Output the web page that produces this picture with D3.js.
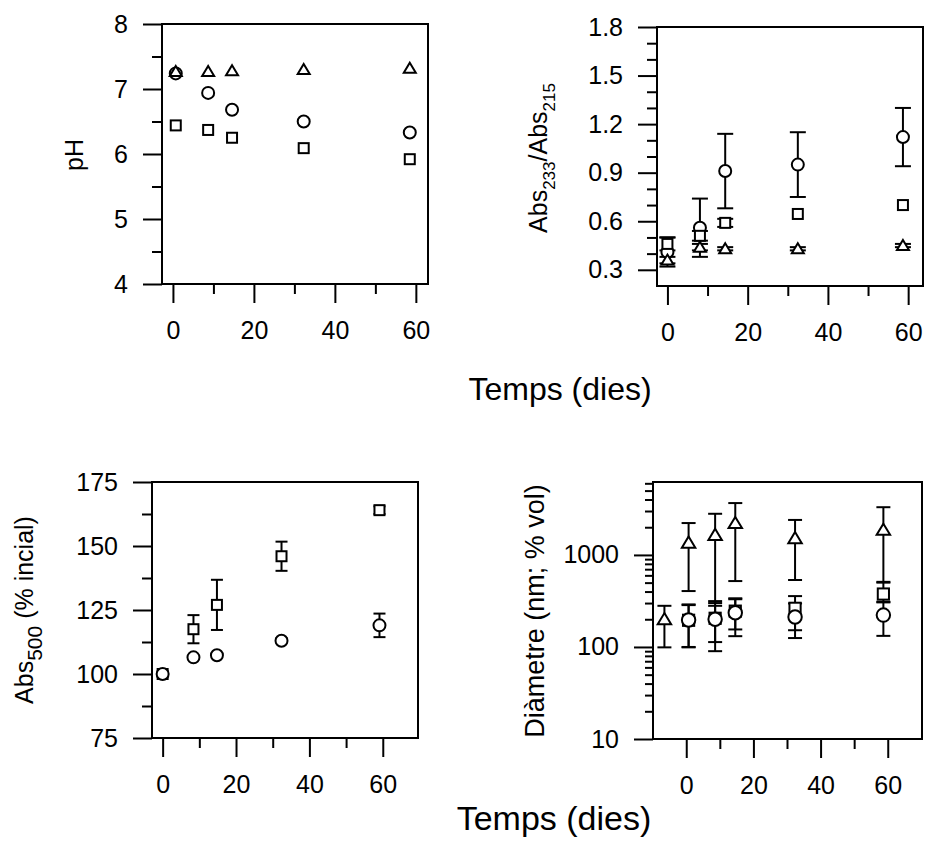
<!DOCTYPE html>
<html>
<head>
<meta charset="utf-8">
<script src="https://cdn.jsdelivr.net/npm/d3@7"></script>
<style>
  body { margin: 0; background: #fff; }
  text { font-family: "Liberation Sans", Arial, sans-serif; fill: #000; }
</style>
</head>
<body>
<div id="chart"></div>
<script>
// pH panel
var phDays = [0.7, 8.7, 14.6, 32.3, 58.5];
var phCircle = [7.24, 6.94, 6.68, 6.5, 6.33];
var phSquare = [6.44, 6.37, 6.25, 6.09, 5.92];
var phTriangle = [7.27, 7.27, 7.28, 7.3, 7.32];

// Abs233/Abs215 panel
var absDays = [0, 8.1, 14.4, 32.5, 58.7];
var absCircle = [0.41, 0.56, 0.91, 0.95, 1.12];
var absCircleErr = [0.09, 0.18, 0.23, 0.2, 0.18];
var absSquare = [0.46, 0.51, 0.59, 0.645, 0.7];
var absSquareErr = [0.04, 0.03, 0.025, 0, 0];
var absTriangle = [0.36, 0.44, 0.43, 0.43, 0.45];
var absTriangleErr = [0.02, 0.02, 0.01, 0.01, 0.01];

// Abs500 panel
var colDays = [0, 8.4, 14.8, 32.4, 59.1];
var colCircle = [100, 106.5, 107.3, 113, 119];
var colCircleErr = [0, 0, 0, 1, 4.6];
var colSquare = [100, 117.5, 127, 146, 164];
var colSquareErr = [0, 5.5, 9.8, 5.7, 1.5];

// Diameter panel (log scale, lower / upper bar ends)
var diamDays = [-6.5, 0.7, 8.6, 14.6, 32.4, 58.7];
var diamTriangle = [200, 1360, 1650, 2220, 1520, 1875];
var diamTriangleLo = [99, 405, 300, 520, 534, 510];
var diamTriangleHi = [280, 2220, 2800, 3660, 2400, 3300];
var diamCircle = [null, 196, 200, 235, 212, 222];
var diamCircleLo = [null, 99, 90, 131, 125, 132];
var diamCircleHi = [null, 290, 315, 330, 297, 310];
var diamSquare = [null, 195, 205, 245, 263, 376];
var diamSquareLo = [null, 100, 113, 155, 152, 305];
var diamSquareHi = [null, 285, 280, 338, 357, 500];

// ticks
var xMajor = [0, 20, 40, 60];
var xMinor = [10, 30, 50];
var phMajor = [4, 5, 6, 7, 8];
var phMinor = [4.5, 5.5, 6.5, 7.5];
var absMajor = [0.3, 0.6, 0.9, 1.2, 1.5, 1.8];
var absMinor = [0.4, 0.5, 0.7, 0.8, 1.0, 1.1, 1.3, 1.4, 1.6, 1.7];
var colMajor = [75, 100, 125, 150, 175];
var colMinor = [87.5, 112.5, 137.5, 162.5];
var diamMajor = [10, 100, 1000];
var diamMinor = [20, 30, 40, 50, 60, 70, 80, 90, 200, 300, 400, 500, 600, 700, 800, 900, 2000, 3000, 4000, 5000, 6000];

function pairs(days, vals, lo, hi) {
  var out = [];
  days.forEach(function (d, i) {
    if (vals[i] == null) return;
    out.push({ x: d, y: vals[i], lo: lo ? lo[i] : vals[i], hi: hi ? hi[i] : vals[i] });
  });
  return out;
}

function withErr(days, vals, err) {
  return pairs(
    days,
    vals,
    vals.map(function (v, i) { return v - (err ? err[i] : 0); }),
    vals.map(function (v, i) { return v + (err ? err[i] : 0); })
  );
}

var svg = d3
  .select("#chart")
  .append("svg")
  .attr("width", 927)
  .attr("height", 847);

function drawPanel(p) {
  var g = svg.append("g");
  var x = d3.scaleLinear().domain(p.xDomain).range([p.left, p.right]);
  var y = (p.log ? d3.scaleLog() : d3.scaleLinear())
    .domain(p.yDomain)
    .range([p.bottom, p.top]);

  var axes = [
    d3.axisLeft(y).tickValues(p.yMinor).tickSize(p.log ? 8 : 10).tickFormat(""),
    d3.axisLeft(y).tickValues(p.yMajor).tickSize(19).tickPadding(15).tickFormat(p.yFormat),
  ];
  axes.forEach(function (a) {
    g.append("g")
      .attr("transform", "translate(" + p.left + ",0)")
      .call(a);
  });
  [
    d3.axisBottom(x).tickValues(xMinor).tickSize(10).tickFormat(""),
    d3.axisBottom(x).tickValues(xMajor).tickSize(19).tickPadding(18).tickFormat(d3.format("d")),
  ].forEach(function (a) {
    g.append("g")
      .attr("transform", "translate(0," + p.bottom + ")")
      .call(a);
  });

  g.selectAll(".domain").remove();
  g.selectAll(".tick line").attr("stroke", "#000").attr("stroke-width", 2);
  g.selectAll(".tick text").attr("font-size", 25);

  g.append("rect")
    .attr("x", p.left)
    .attr("y", p.top)
    .attr("width", p.right - p.left)
    .attr("height", p.bottom - p.top)
    .attr("fill", "none")
    .attr("stroke", "#000")
    .attr("stroke-width", 2);

  var k = p.symScale || 1;
  var cap = p.cap || 14;

  // error bars
  p.series.forEach(function (s) {
    var bars = s.data.filter(function (d) { return d.hi !== d.lo; });
    var eb = g.append("g").attr("stroke", "#000").attr("stroke-width", 2);
    eb.selectAll("line.v")
      .data(bars)
      .enter()
      .append("line")
      .attr("x1", function (d) { return x(d.x); })
      .attr("x2", function (d) { return x(d.x); })
      .attr("y1", function (d) { return y(d.lo); })
      .attr("y2", function (d) { return y(d.hi); });
    ["lo", "hi"].forEach(function (end) {
      eb.selectAll("line." + end)
        .data(bars)
        .enter()
        .append("line")
        .attr("x1", function (d) { return x(d.x) - cap / 2; })
        .attr("x2", function (d) { return x(d.x) + cap / 2; })
        .attr("y1", function (d) { return y(d[end]); })
        .attr("y2", function (d) { return y(d[end]); });
    });
  });

  // markers
  p.series.forEach(function (s) {
    var m = g.append("g")
      .attr("fill", "#fff")
      .attr("stroke", "#000")
      .attr("stroke-width", 2);
    var pts = m.selectAll("g.pt").data(s.data).enter();
    if (s.shape === "circle") {
      pts.append("circle")
        .attr("cx", function (d) { return x(d.x); })
        .attr("cy", function (d) { return y(d.y); })
        .attr("r", 6 * k);
    } else if (s.shape === "square") {
      pts.append("rect")
        .attr("x", function (d) { return x(d.x) - 5 * k; })
        .attr("y", function (d) { return y(d.y) - 5 * k; })
        .attr("width", 10 * k)
        .attr("height", 10 * k);
    } else {
      pts.append("path").attr("d", function (d) {
        var cx = x(d.x), cy = y(d.y), w = 12 * k, h = 10 * k;
        return "M" + cx + "," + (cy - h * 0.55) +
          "L" + (cx + w / 2) + "," + (cy + h * 0.45) +
          "L" + (cx - w / 2) + "," + (cy + h * 0.45) + "Z";
      });
    }
  });
  return g;
}

// panel 1: pH
drawPanel({
  left: 162, right: 428, top: 24, bottom: 284,
  xDomain: [-2.7, 63], yDomain: [4, 8],
  yMajor: phMajor, yMinor: phMinor, yFormat: d3.format("d"),
  series: [
    { shape: "circle", data: pairs(phDays, phCircle) },
    { shape: "square", data: pairs(phDays, phSquare) },
    { shape: "triangle", data: pairs(phDays, phTriangle) },
  ],
});

// panel 2: Abs233/Abs215
drawPanel({
  left: 657, right: 923, top: 27, bottom: 286,
  xDomain: [-2.6, 63.7], yDomain: [0.2, 1.8],
  yMajor: absMajor, yMinor: absMinor, yFormat: d3.format(".1f"),
  cap: 16,
  series: [
    { shape: "circle", data: withErr(absDays, absCircle, absCircleErr) },
    { shape: "square", data: withErr(absDays, absSquare, absSquareErr) },
    { shape: "triangle", data: withErr(absDays, absTriangle, absTriangleErr) },
  ],
});

// panel 3: Abs500
drawPanel({
  left: 152, right: 418, top: 482, bottom: 738,
  xDomain: [-2.9, 69.6], yDomain: [75, 175],
  yMajor: colMajor, yMinor: colMinor, yFormat: d3.format("d"),
  cap: 12,
  series: [
    { shape: "square", data: withErr(colDays, colSquare, colSquareErr) },
    { shape: "circle", data: withErr(colDays, colCircle, colCircleErr) },
  ],
});

// panel 4: diameter
drawPanel({
  left: 653, right: 922, top: 482, bottom: 739,
  xDomain: [-9.9, 70.2], yDomain: [10, 6200], log: true,
  yMajor: diamMajor, yMinor: diamMinor, yFormat: d3.format("d"),
  symScale: 1.12, cap: 14,
  series: [
    { shape: "square", data: pairs(diamDays, diamSquare, diamSquareLo, diamSquareHi) },
    { shape: "circle", data: pairs(diamDays, diamCircle, diamCircleLo, diamCircleHi) },
    { shape: "triangle", data: pairs(diamDays, diamTriangle, diamTriangleLo, diamTriangleHi) },
  ],
});

// axis titles
function yTitle(xb, yc, size, parts) {
  var t = svg.append("text")
    .attr("transform", "translate(" + xb + "," + yc + ") rotate(-90)")
    .attr("text-anchor", "middle")
    .attr("font-size", size);
  var shift = 0;
  parts.forEach(function (pt) {
    var dy = (pt.sub || 0) - shift;
    shift = pt.sub || 0;
    t.append("tspan")
      .attr("dy", dy)
      .attr("font-size", pt.size || size)
      .text(pt.t);
  });
}

yTitle(83, 155, 25, [{ t: "pH" }]);
yTitle(547, 158, 25, [
  { t: "Abs" }, { t: "233", sub: 8, size: 17 },
  { t: "/Abs" }, { t: "215", sub: 8, size: 17 },
]);
yTitle(33, 610, 25, [
  { t: "Abs" }, { t: "500", sub: 9, size: 21 }, { t: " (% incial)" },
]);
yTitle(544, 611, 27, [{ t: "Diàmetre (nm; % vol)" }]);

svg.append("text")
  .attr("x", 560)
  .attr("y", 400)
  .attr("text-anchor", "middle")
  .attr("font-size", 32)
  .text("Temps (dies)");

svg.append("text")
  .attr("x", 554)
  .attr("y", 830)
  .attr("text-anchor", "middle")
  .attr("font-size", 34)
  .text("Temps (dies)");
</script>
</body>
</html>
